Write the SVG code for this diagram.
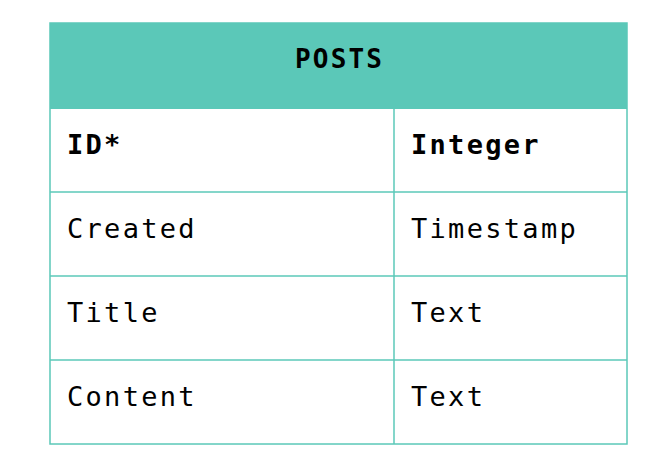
<svg xmlns="http://www.w3.org/2000/svg" width="656" height="476" viewBox="0 0 656 476">
  <style>
    .grid { stroke: #5bc8b8; stroke-width: 1.5; fill: none; }
    .cell { font-family: "DejaVu Sans Mono", "Liberation Mono", monospace; font-size: 27px; letter-spacing: 2.3px; fill: #000; }
    .key { font-weight: bold; }
    .title { font-family: "DejaVu Sans Mono", "Liberation Mono", monospace; font-size: 26px; font-weight: bold; letter-spacing: 2.2px; fill: #000; }
  </style>
  <rect width="656" height="476" fill="#ffffff"/>

  <!-- table header -->
  <g id="header">
    <rect x="50" y="23" width="577" height="86" fill="#5bc8b8"/>
    <text class="title" x="339.6" y="68" text-anchor="middle">POSTS</text>
  </g>

  <!-- grid lines -->
  <g id="grid">
    <rect class="grid" x="50" y="23" width="577" height="421"/>
    <line class="grid" x1="394" y1="109" x2="394" y2="444"/>
    <line class="grid" x1="50" y1="192" x2="627" y2="192"/>
    <line class="grid" x1="50" y1="276" x2="627" y2="276"/>
    <line class="grid" x1="50" y1="360" x2="627" y2="360"/>
  </g>

  <g id="row-id">
    <text class="cell key" x="67" y="154">ID*</text>
    <text class="cell key" x="411" y="154">Integer</text>
  </g>
  <g id="row-created">
    <text class="cell" x="67" y="238">Created</text>
    <text class="cell" x="411" y="238">Timestamp</text>
  </g>
  <g id="row-title">
    <text class="cell" x="67" y="322">Title</text>
    <text class="cell" x="411" y="322">Text</text>
  </g>
  <g id="row-content">
    <text class="cell" x="67" y="406">Content</text>
    <text class="cell" x="411" y="406">Text</text>
  </g>
</svg>
